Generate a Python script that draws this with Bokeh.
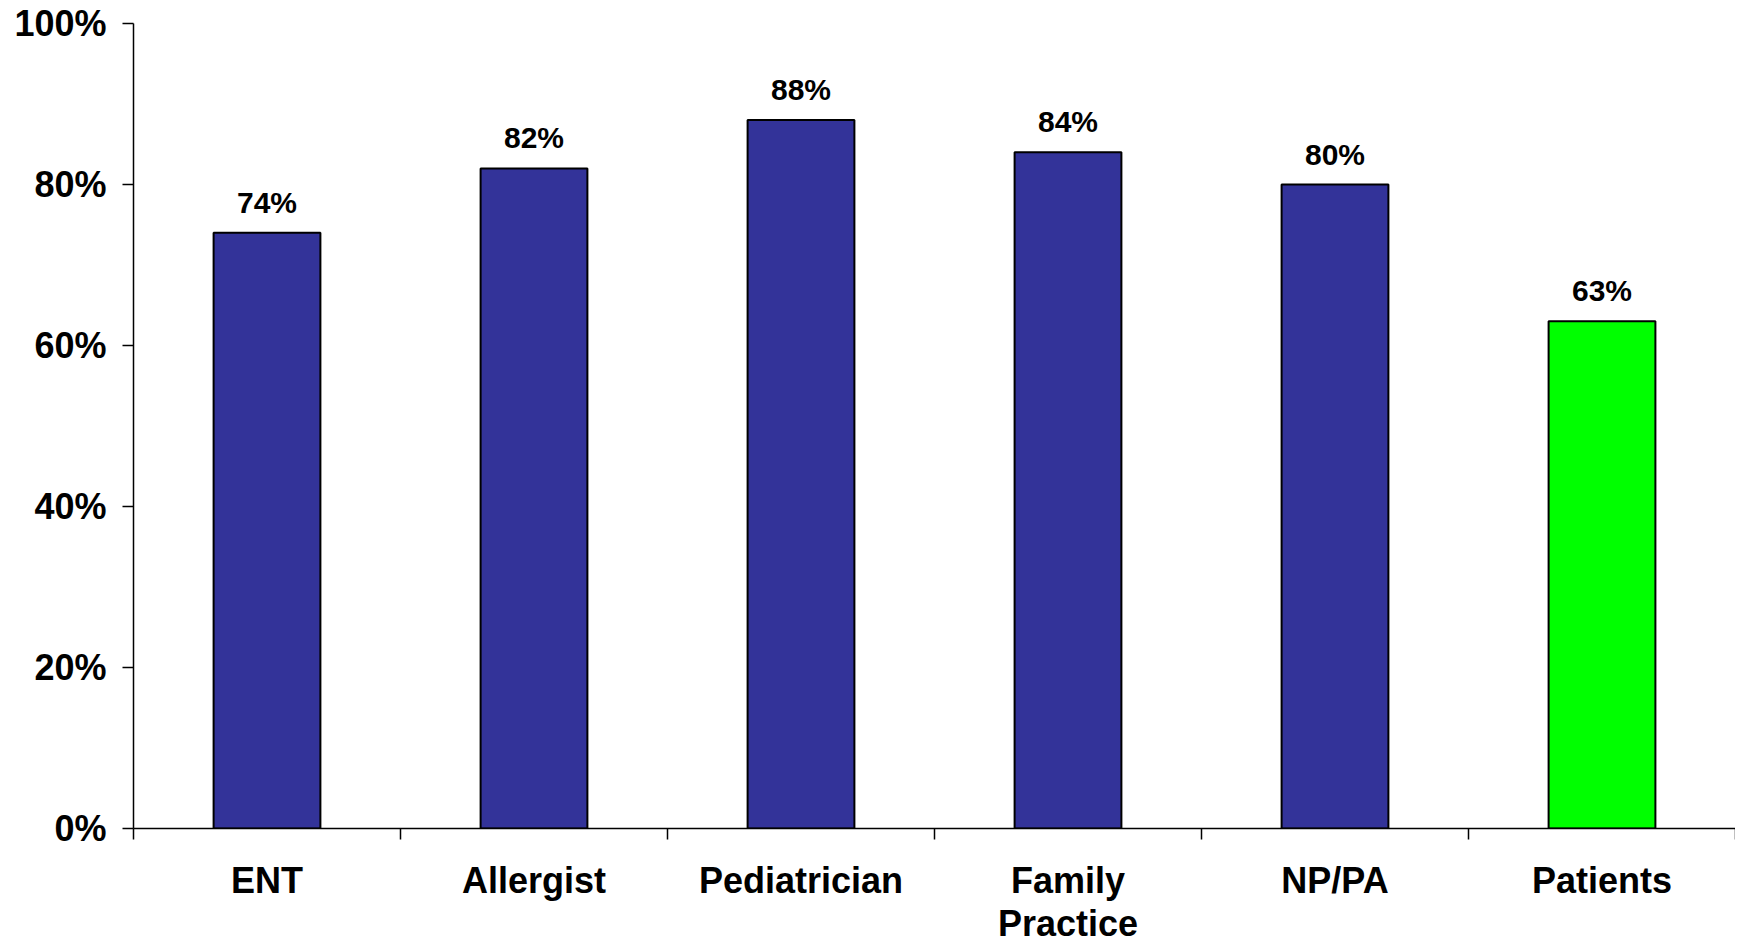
from bokeh.plotting import figure
from bokeh.layouts import column
from bokeh.models import (Range1d, FixedTicker, ColumnDataSource, CustomJSTickFormatter)
from bokeh.core.properties import value
from bokeh.embed import file_html
from bokeh.resources import INLINE

categories = ["ENT", "Allergist", "Pediatrician", "Family\nPractice", "NP/PA", "Patients"]
values = [74, 82, 88, 84, 80, 63]
colors = ["#333399", "#333399", "#333399", "#333399", "#333399", "#00FF00"]
y_ticks = [0, 20, 40, 60, 80, 100]

FONT = "Liberation Sans"
W = 1735

x_range = Range1d(0, len(categories))
p = figure(width=W, height=853, output_backend="svg", toolbar_location=None,
           x_range=x_range, y_range=Range1d(0, 100),
           min_border_left=133, min_border_right=0, min_border_top=23, min_border_bottom=25)
p.outline_line_color = None
p.grid.visible = False
p.background_fill_color = "white"
p.border_fill_color = "white"

xs = [i + 0.5 for i in range(len(categories))]
src = ColumnDataSource(dict(x=xs, top=values, color=colors,
                            label=[f"{v}%" for v in values], cat=categories))
p.vbar(x="x", top="top", width=0.40, bottom=0, source=src, fill_color="color",
       line_color="black", line_width=2)
p.text(x="x", y="top", text="label", source=src, text_align="center",
       text_baseline="bottom", y_offset=-14, text_font=value(FONT),
       text_font_style="bold", text_font_size="30px", text_color="black")

# y axis
ya = p.yaxis[0]
ya.ticker = FixedTicker(ticks=y_ticks)
ya.formatter = CustomJSTickFormatter(code="return tick.toFixed(0) + '%';")
ya.major_label_text_font = FONT
ya.major_label_text_font_style = "bold"
ya.major_label_text_font_size = "36px"
ya.major_label_text_color = "black"
ya.major_tick_out = 11
ya.major_tick_in = 0
ya.minor_tick_out = 0
ya.minor_tick_in = 0
ya.major_label_standoff = 16
ya.axis_line_color = "black"
ya.axis_line_width = 1.5
ya.major_tick_line_width = 1.5

# x axis: ticks at category boundaries, no labels
xa = p.xaxis[0]
xa.ticker = FixedTicker(ticks=list(range(len(categories) + 1)))
xa.formatter = CustomJSTickFormatter(code="return '';")
xa.major_label_text_font_size = "10px"
xa.major_tick_out = 11
xa.major_tick_in = 0
xa.minor_tick_out = 0
xa.minor_tick_in = 0
xa.axis_line_color = "black"
xa.axis_line_width = 1.5
xa.major_tick_line_width = 1.5
xa.major_label_standoff = 0

# strip below with the category names, sharing the x range
p2 = figure(width=W, height=86, output_backend="svg", toolbar_location=None,
            x_range=x_range, y_range=Range1d(0, 1),
            x_axis_location=None, y_axis_location=None,
            min_border_left=133, min_border_right=0, min_border_top=0, min_border_bottom=0)
p2.outline_line_color = None
p2.grid.visible = False
p2.background_fill_color = "white"
p2.border_fill_color = "white"
p2.text(x="x", y=1, text="cat", source=src, text_align="center",
        text_baseline="top", y_offset=6, text_font=value(FONT),
        text_font_style="bold", text_font_size="36px", text_color="black",
        text_line_height=1.07)

layout = column(p, p2, spacing=0)
open("out.html", "w").write(file_html(layout, INLINE))
